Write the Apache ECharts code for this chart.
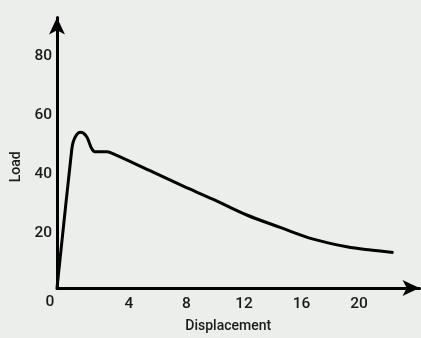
<!DOCTYPE html>
<html>
<head>
<meta charset="utf-8">
<script src="https://cdn.jsdelivr.net/npm/echarts@6/dist/echarts.min.js"></script>
<style>
  html, body { margin: 0; padding: 0; background: #eceeec; }
  #chart { width: 421px; height: 338px; }
</style>
</head>
<body>
<div id="chart"></div>
<script>
// ---- data ----
const displacement = [-1, 0.02, 0.13, 0.37, 0.6, 0.85, 1.1, 1.41, 1.64, 2.0, 2.46, 2.8, 5.0, 7.55, 9.87, 12.19, 14.51, 16.82, 19.15, 20.8, 22.39];
const load =         [1.3, 48.1, 51.0, 53.4, 54.2, 53.9, 52.4, 48.7, 47.6, 47.6, 47.6, 47.1, 42.2, 36.4, 31.4, 26.1, 21.9, 17.9, 15.3, 14.2, 13.4];
const xTicks = [4, 8, 12, 16, 20];
const yTicks = [20, 40, 60, 80];
const originLabel = '0';
const xName = 'Displacement';
const yName = 'Load';

const font = "Roboto, 'Liberation Sans', sans-serif";
const textColor = '#1a1a1a';

const chart = echarts.init(document.getElementById('chart'), null, { renderer: 'canvas' });
const nameTxt = { fontFamily: font, fontSize: 14, fontWeight: 500, color: textColor };
const tickTxt = { fontFamily: font, fontSize: 15.5, fontWeight: 500, color: textColor };
const option = {
  backgroundColor: '#eceeec',
  animation: false,
  grid: { left: 57, right: 1.5, top: 17.5, bottom: 47, containLabel: false },
  xAxis: {
    type: 'value',
    min: -1, max: 24.2,
    name: xName,
    nameLocation: 'middle',
    nameGap: 31,
    nameTextStyle: Object.assign({}, nameTxt, { padding: [0, 20, 0, 0] }),
    axisLine: { show: true, onZero: false, lineStyle: { color: '#000', width: 3 }, symbol: ['none', 'arrow'], symbolSize: [12, 17] },
    axisTick: { show: false },
    splitLine: { show: false },
    axisLabel: Object.assign({ customValues: xTicks, margin: 8 }, tickTxt)
  },
  yAxis: {
    type: 'value',
    min: 1.3, max: 93.2,
    name: yName,
    nameLocation: 'middle',
    nameGap: 30,
    nameRotate: 90,
    nameTextStyle: Object.assign({}, nameTxt, { padding: [0, 28, 0, 0] }),
    axisLine: { show: true, onZero: false, lineStyle: { color: '#000', width: 3 }, symbol: ['none', 'arrow'], symbolSize: [12, 17] },
    axisTick: { show: false },
    splitLine: { show: false },
    axisLabel: Object.assign({ customValues: yTicks, margin: 5 }, tickTxt)
  },
  series: [{
    type: 'line',
    data: displacement.map((d, i) => [d, load[i]]),
    smooth: 0.35,
    showSymbol: false,
    lineStyle: { color: '#000', width: 3 },
    z: 3
  }]
};
chart.setOption(option);
const o = chart.convertToPixel({ gridIndex: 0 }, [-1, 1.3]);
chart.setOption({
  graphic: [{
    type: 'text',
    x: o[0] - 7, y: o[1] + 14,
    style: { text: originLabel, font: '500 15.5px ' + font, fill: textColor, align: 'center', verticalAlign: 'middle' }
  }]
});
</script>
</body>
</html>
